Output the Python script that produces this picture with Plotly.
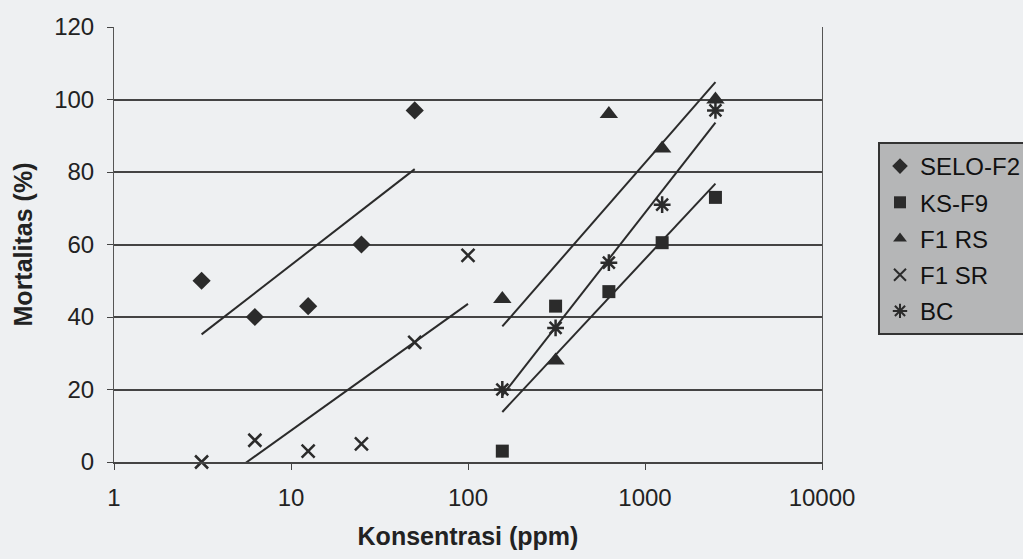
import numpy as np
import plotly.graph_objects as go

# ---- data ----
conc_low = [3.125, 6.25, 12.5, 25, 50]
selo_f2 = [50, 40, 43, 60, 97]

conc_sr = [3.125, 6.25, 12.5, 25, 50, 100]
f1_sr = [0, 6, 3, 5, 33, 57]

conc_high = [156.25, 312.5, 625, 1250, 2500]
ks_f9 = [3, 43, 47, 60.5, 73]
f1_rs = [45, 28, 96, 86.5, 100]
bc = [20, 37, 55, 71, 97]

series_names = ["SELO-F2", "KS-F9", "F1 RS", "F1 SR", "BC"]
x_tickvals = [1, 10, 100, 1000, 10000]
x_ticktext = ["1", "10", "100", "1000", "10000"]
y_tickvals = [0, 20, 40, 60, 80, 100, 120]

INK = "#2b2b2b"
BG = "#eef0f2"


def log_trend(xs, ys):
    lx = np.log(np.array(xs, dtype=float))
    a, b = np.polyfit(lx, np.array(ys, dtype=float), 1)
    xx = np.array([min(xs), max(xs)], dtype=float)
    return xx, a * np.log(xx) + b


fig = go.Figure()

series = [
    (series_names[0], conc_low, selo_f2, dict(symbol="diamond", size=14, color=INK)),
    (series_names[1], conc_high, ks_f9, dict(symbol="square", size=13, color=INK)),
    (series_names[2], conc_high, f1_rs, dict(symbol="triangle-up", size=16, color=INK)),
    (series_names[3], conc_sr, f1_sr, dict(symbol="x-thin-open", size=13, color=INK,
                                           line=dict(width=2.5, color=INK))),
    (series_names[4], conc_high, bc, dict(symbol="asterisk-open", size=14, color=INK,
                                          line=dict(width=2.5, color=INK))),
]

# logarithmic trend lines fitted to each series
for name, xs, ys, mk in series:
    tx, ty = log_trend(xs, ys)
    fig.add_trace(go.Scatter(x=tx, y=ty, mode="lines",
                             line=dict(color=INK, width=2),
                             showlegend=False, hoverinfo="skip", cliponaxis=True))

for i, (name, xs, ys, mk) in enumerate(series):
    fig.add_trace(go.Scatter(x=xs, y=ys, mode="markers", name=name,
                             marker=mk, legendgroup=f"g{i}", cliponaxis=False))

fig.update_layout(
    width=1023, height=559,
    margin=dict(l=114, r=201, t=27, b=97, autoexpand=False),
    paper_bgcolor=BG, plot_bgcolor=BG,
    font=dict(family="Liberation Sans, Arial, sans-serif", color="#222", size=24),
    showlegend=True,
    legend=dict(x=(878 - 114) / 708, y=(462 - 142) / 435, xanchor="left", yanchor="top",
                bgcolor="#b5b6b7", bordercolor="#333", borderwidth=2,
                font=dict(size=24, color="#111"), tracegroupgap=2,
                itemsizing="constant"),
)

fig.update_xaxes(type="log", range=[0, 4], tickvals=x_tickvals, ticktext=x_ticktext,
                 showgrid=False, showline=True, linecolor="#444", linewidth=1.5,
                 mirror=False, ticks="outside", ticklen=6, tickcolor="#444",
                 tickfont=dict(size=24), zeroline=False, ticklabelstandoff=7,
                 title=dict(text="<b>Konsentrasi (ppm)</b>", font=dict(size=25), standoff=18))
fig.update_yaxes(range=[0, 120], tickvals=y_tickvals, showgrid=True,
                 gridcolor="#444", gridwidth=1.5, showline=True, linecolor="#555",
                 linewidth=1, mirror=True, ticks="outside", ticklen=6, tickcolor="#444",
                 tickfont=dict(size=24), zeroline=False, ticklabelstandoff=8,
                 title=dict(text="<b>Mortalitas (%)</b>", font=dict(size=25), standoff=14))

fig.write_html("out.html", config={"displayModeBar": False},
               post_script="document.body.style.margin='0';document.body.style.background='#eef0f2';")
